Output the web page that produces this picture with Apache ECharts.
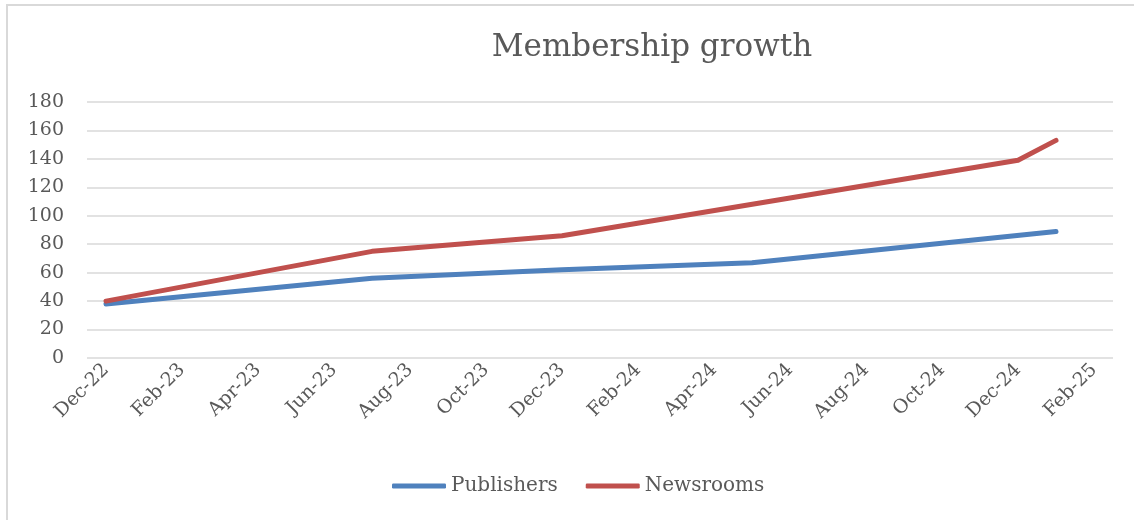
<!DOCTYPE html>
<html>
<head>
<meta charset="utf-8">
<script src="https://cdn.jsdelivr.net/npm/echarts@6/dist/echarts.min.js"></script>
<style>
  html, body { margin: 0; padding: 0; background: #fff; }
  .frame {
    position: absolute; left: 6px; top: 4px; width: 1300px; height: 700px;
    border-left: 2px solid #d9d9d9; border-top: 2px solid #d9d9d9;
  }
  #chart { position: absolute; left: 0; top: 0; width: 1134px; height: 520px; }
</style>
</head>
<body>
<div class="frame"></div>
<div id="chart"></div>
<script>
// monthly slots on the date axis, Dec-22 .. Feb-25
const months = [
  'Dec-22', 'Jan-23', 'Feb-23', 'Mar-23', 'Apr-23', 'May-23', 'Jun-23', 'Jul-23', 'Aug-23',
  'Sep-23', 'Oct-23', 'Nov-23', 'Dec-23', 'Jan-24', 'Feb-24', 'Mar-24', 'Apr-24', 'May-24',
  'Jun-24', 'Jul-24', 'Aug-24', 'Sep-24', 'Oct-24', 'Nov-24', 'Dec-24', 'Jan-25', 'Feb-25'
]

const publisherDates = ['Dec-22', 'Jul-23', 'Dec-23', 'May-24', 'Jan-25']
const publisherValues = [38, 56, 62, 67, 89]

const newsroomDates = ['Dec-22', 'Jul-23', 'Dec-23', 'Dec-24', 'Jan-25']
const newsroomValues = [40, 75, 86, 139, 153]

const FONT = '"DejaVu Serif", serif'
const TEXT = '#595959'

const chart = echarts.init(document.getElementById('chart'))

const pairs = (dates, values) => dates.map((d, i) => [d, values[i]])

const option = {
  animation: false,
  title: {
    text: 'Membership growth',
    left: 647,
    top: 27,
    textAlign: 'center',
    textStyle: { fontFamily: FONT, fontSize: 31, fontWeight: 'normal', color: TEXT }
  },
  legend: {
    left: 387,
    top: 471,
    icon: 'roundRect',
    itemWidth: 54,
    itemHeight: 5,
    itemGap: 28,
    textStyle: { fontFamily: FONT, fontSize: 20, color: TEXT },
    data: ['Publishers', 'Newsrooms']
  },
  grid: { left: 87, right: 21, top: 102, bottom: 162 },
  xAxis: {
    type: 'category',
    data: months,
    boundaryGap: true,
    axisLine: { show: false },
    axisTick: { show: false },
    axisLabel: {
      interval: 1,
      rotate: 45,
      margin: 9,
      fontFamily: FONT,
      fontSize: 19,
      color: TEXT
    }
  },
  yAxis: {
    type: 'value',
    min: 0,
    max: 180,
    interval: 20,
    axisLine: { show: false },
    axisTick: { show: false },
    axisLabel: { margin: 23, fontFamily: FONT, fontSize: 19, color: TEXT },
    splitLine: { lineStyle: { color: '#d9d9d9', width: 1.5 } }
  },
  series: [
    {
      name: 'Publishers',
      type: 'line',
      showSymbol: false,
      symbol: 'none',
      color: '#4F81BD',
      lineStyle: { width: 5, cap: 'round', join: 'round' },
      data: pairs(publisherDates, publisherValues)
    },
    {
      name: 'Newsrooms',
      type: 'line',
      showSymbol: false,
      symbol: 'none',
      color: '#C0504D',
      lineStyle: { width: 5, cap: 'round', join: 'round' },
      data: pairs(newsroomDates, newsroomValues)
    }
  ]
}

chart.setOption(option)
</script>
</body>
</html>
